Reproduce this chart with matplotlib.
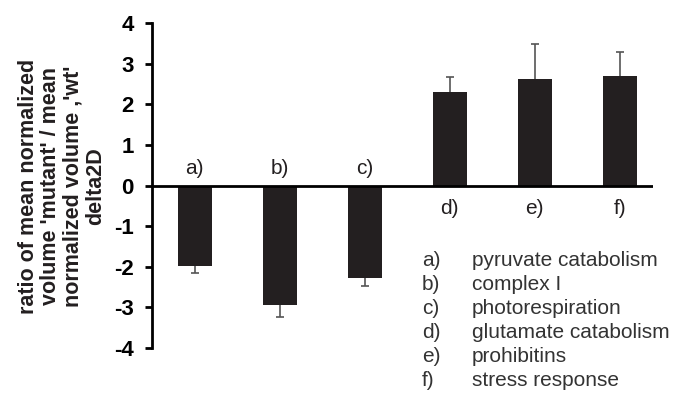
import matplotlib
matplotlib.use("Agg")
import matplotlib.pyplot as plt

# Datos
categorias = ["a)", "b)", "c)", "d)", "e)", "f)"]
valores = [-1.98, -2.93, -2.27, 2.30, 2.62, 2.70]
errores = [0.17, 0.30, 0.20, 0.36, 0.87, 0.58]
descripciones = [
    "pyruvate catabolism",
    "complex I",
    "photorespiration",
    "glutamate catabolism",
    "prohibitins",
    "stress response",
]
yticks = [-4, -3, -2, -1, 0, 1, 2, 3, 4]

plt.rcParams["font.family"] = ["Liberation Sans", "DejaVu Sans"]

fig = plt.figure(figsize=(6.78, 3.97), dpi=100)
ax = fig.add_axes([0.224, 0.1234, 0.739, 0.8186])

x = list(range(len(valores)))
ax.bar(x, valores, width=0.4, color="#231f20", zorder=2)

# barras de error solo hacia fuera (el extremo interior queda tapado por la barra)
for xi, v, e in zip(x, valores, errores):
    yerr = [[0.1], [e]] if v > 0 else [[e], [0.1]]
    ax.errorbar(xi, v, yerr=yerr, fmt="none", ecolor="#555555",
                elinewidth=1.2, capsize=3, capthick=1.2, zorder=1)

ax.axhline(0, color="black", lw=2, zorder=3)

# etiquetas a) .. f)
for xi, v, lab in zip(x, valores, categorias):
    yy = 0.42 if v < 0 else -0.57
    ax.text(xi, yy, lab, ha="center", va="center", fontsize=15, color="#231f20")

ax.set_xlim(-0.506, 5.39)
ax.set_ylim(-4, 4)
ax.set_yticks(yticks)
ax.set_yticklabels([str(t) for t in yticks], fontweight="bold", fontsize=16)
ax.set_xticks([])
for s in ("top", "right", "bottom"):
    ax.spines[s].set_visible(False)
ax.spines["left"].set_linewidth(2)
ax.tick_params(axis="y", direction="out", length=5, width=2, pad=8)

fig.text(62 / 678, 1 - 186 / 397,
         "ratio of mean normalized\nvolume 'mutant' / mean\nnormalized volume ,'wt'\ndelta2D",
         rotation=90, ha="center", va="center", multialignment="center",
         fontweight="bold", fontsize=15.5, linespacing=1.1, color="#231f20")

# leyenda de texto
y0 = 260
for i, (lab, d) in enumerate(zip(categorias, descripciones)):
    yy = 1 - (y0 + i * 24) / 397
    fig.text(422 / 678, yy, lab, ha="left", va="center", fontsize=15, color="#333333")
    fig.text(472 / 678, yy, d, ha="left", va="center", fontsize=15, color="#333333")

fig.savefig("out.png", dpi=100)
